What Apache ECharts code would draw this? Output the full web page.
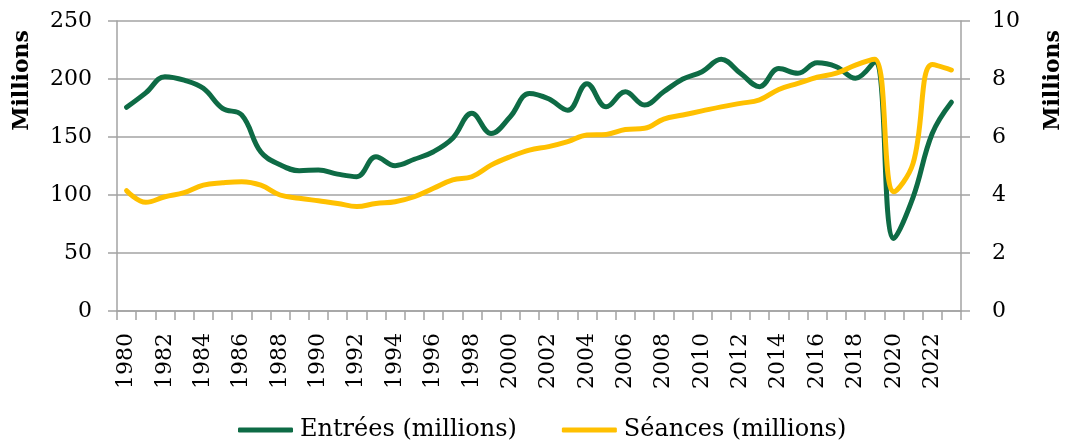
<!DOCTYPE html>
<html>
<head>
<meta charset="utf-8">
<script src="https://cdn.jsdelivr.net/npm/echarts@6/dist/echarts.min.js"></script>
<style>
  html, body { margin: 0; padding: 0; background: #fff; }
  #chart { width: 1066px; height: 443px; }
</style>
</head>
<body>
<div id="chart"></div>
<script>
// années 1980 -> 2023
const years = ['1980','1981','1982','1983','1984','1985','1986','1987','1988','1989',
  '1990','1991','1992','1993','1994','1995','1996','1997','1998','1999',
  '2000','2001','2002','2003','2004','2005','2006','2007','2008','2009',
  '2010','2011','2012','2013','2014','2015','2016','2017','2018','2019',
  '2020','2021','2022','2023'];

// Entrées (millions), axe de gauche
const entrees = [175.6, 188, 202, 199, 192, 174.7, 169, 137, 126, 121,
  121.5, 118, 115.8, 133, 125.3, 130.8, 137.3, 148.9, 170.4, 153,
  167.5, 187.6, 183, 173, 196, 176, 189, 177.6, 189, 200,
  206.3, 217, 205, 193.4, 209, 205, 214, 210.6, 200.6, 215,
  62.6, 98, 153, 180];

// Séances (millions), axe de droite
const seances = [4.15, 3.75, 3.94, 4.08, 4.34, 4.42, 4.46, 4.34, 4.0, 3.89,
  3.80, 3.71, 3.60, 3.71, 3.77, 3.94, 4.23, 4.52, 4.63, 5.03,
  5.32, 5.55, 5.67, 5.84, 6.07, 6.09, 6.26, 6.30, 6.62, 6.76,
  6.90, 7.04, 7.16, 7.28, 7.64, 7.85, 8.06, 8.2, 8.48, 8.68,
  4.11, 5.09, 8.5, 8.31];

const font = 'DejaVu Serif';
const gray = '#a3a3a3';

const chart = echarts.init(document.getElementById('chart'), null, { renderer: 'canvas' });

chart.setOption({
  animation: false,
  color: ['#0e6b45', '#ffc000'],
  textStyle: { fontFamily: font, color: '#000' },
  grid: { left: 117, right: 105, top: 21, bottom: 132 },
  legend: {
    left: 233,
    top: 413,
    icon: 'roundRect',
    itemWidth: 55,
    itemHeight: 5,
    itemGap: 45,
    textStyle: { fontFamily: font, fontSize: 24, color: '#000', padding: [0, 0, 0, 2] },
    data: ['Entrées (millions)', 'Séances (millions)']
  },
  graphic: [
    {
      type: 'text', left: 11, top: 30,
      rotation: Math.PI / 2,
      style: { text: 'Millions', font: 'bold 22px "DejaVu Serif"', fill: '#000' }
    },
    {
      type: 'text', left: 1042, top: 30,
      rotation: Math.PI / 2,
      style: { text: 'Millions', font: 'bold 22px "DejaVu Serif"', fill: '#000' }
    }
  ],
  xAxis: {
    type: 'category',
    data: years,
    boundaryGap: true,
    axisLine: { lineStyle: { color: gray, width: 1.5 } },
    axisTick: { show: true, interval: 0, length: 9, lineStyle: { color: gray, width: 1.5 } },
    axisLabel: { interval: 1, rotate: 90, margin: 22, fontSize: 22, color: '#000', fontFamily: font }
  },
  yAxis: [
    {
      type: 'value',
      min: 0, max: 250, interval: 50,
      axisLine: { show: true, lineStyle: { color: gray, width: 1.5 } },
      axisTick: { show: true, length: 9, lineStyle: { color: gray, width: 1.5 } },
      axisLabel: { margin: 25, fontSize: 22, color: '#000', fontFamily: font },
      splitLine: { show: true, lineStyle: { color: gray, width: 1.5 } }
    },
    {
      type: 'value',
      position: 'right',
      min: 0, max: 10, interval: 2,
      axisLine: { show: true, lineStyle: { color: gray, width: 1.5 } },
      axisTick: { show: true, length: 9, lineStyle: { color: gray, width: 1.5 } },
      axisLabel: { margin: 31, fontSize: 22, color: '#000', fontFamily: font },
      splitLine: { show: false }
    }
  ],
  series: [
    {
      name: 'Entrées (millions)',
      type: 'line',
      yAxisIndex: 0,
      data: entrees,
      smooth: 0.4,
      symbol: 'none',
      lineStyle: { width: 5, cap: 'round', join: 'round' }
    },
    {
      name: 'Séances (millions)',
      type: 'line',
      yAxisIndex: 1,
      data: seances,
      smooth: 0.4,
      symbol: 'none',
      lineStyle: { width: 5, cap: 'round', join: 'round' }
    }
  ]
});
</script>
</body>
</html>
